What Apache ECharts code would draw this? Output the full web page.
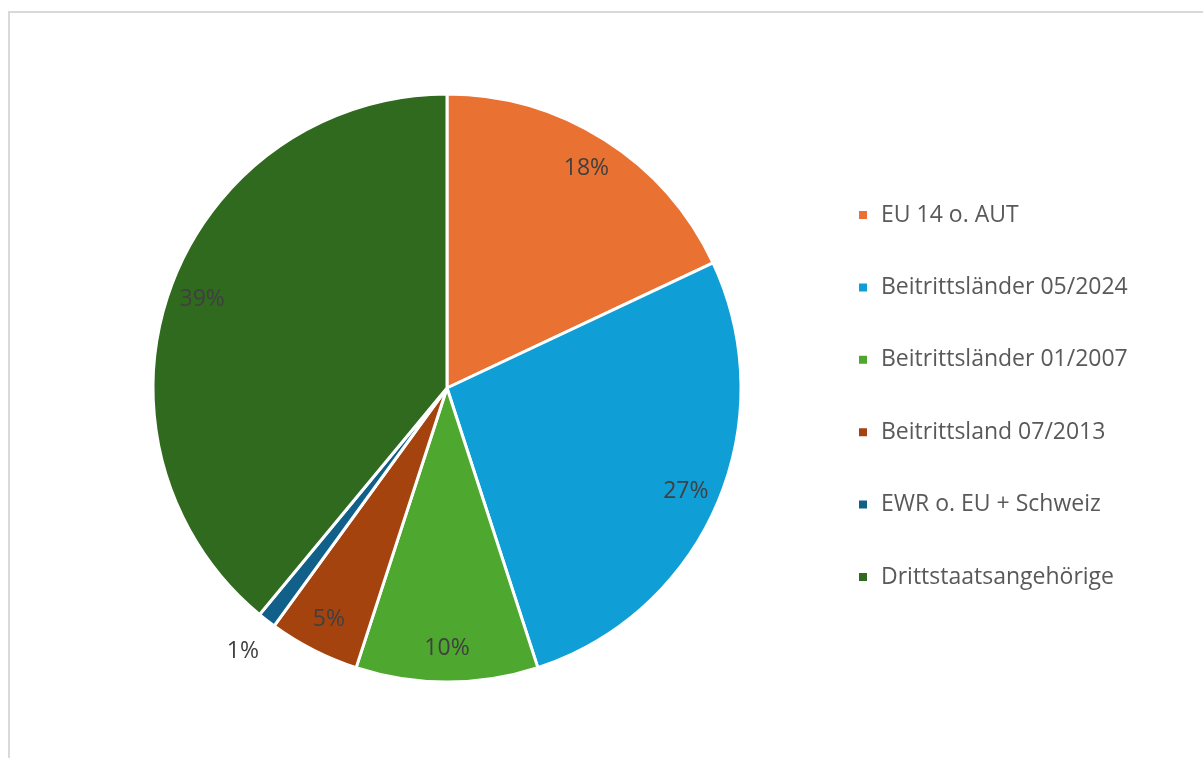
<!DOCTYPE html>
<html>
<head>
<meta charset="utf-8">
<script src="https://cdn.jsdelivr.net/npm/echarts@6/dist/echarts.min.js"></script>
<style>
html,body{margin:0;padding:0;background:#fff;}
#chart{width:1203px;height:758px;}
</style>
</head>
<body>
<div id="chart"></div>
<script>
const categories = ['EU 14 o. AUT','Beitrittsländer 05/2024','Beitrittsländer 01/2007','Beitrittsland 07/2013','EWR o. EU + Schweiz','Drittstaatsangehörige'];
const values = [18, 27, 10, 5, 1, 39];
const colors = ['#E97132','#0F9ED5','#4EA72E','#A5430F','#11608A','#2F6A1E'];
const outsideLabelIdx = [4];

const fontFam = '"Open Sans", Lato, sans-serif';
const labelFmt = p => Math.round(p.percent) + '%';

const chart = echarts.init(document.getElementById('chart'), null, {renderer:'canvas'});
const center = [447, 388];
const R = 294;

chart.setOption({
  animation:false,
  color: colors,
  graphic:[{type:'rect', silent:true, shape:{x:9,y:12,width:1400,height:900}, style:{fill:'none',stroke:'#d9d9d9',lineWidth:2}}],
  legend:{
    orient:'vertical', left:852, top:197,
    itemWidth:10, itemHeight:10, itemGap:46.4, icon:'rect',
    data: categories,
    textStyle:{fontFamily:fontFam, fontSize:23, color:'#595959', lineHeight:26, padding:[0,0,0,8]}
  },
  series:[
    {
      type:'pie', center:center, radius:R, startAngle:90, clockwise:true,
      data: categories.map((c,i)=>({name:c, value:values[i]})),
      itemStyle:{borderColor:'#fff', borderWidth:3},
      label:{show:false}, labelLine:{show:false},
      emphasis:{disabled:true}
    },
    {
      type:'pie', center:center, radius:[R*0.75, R], startAngle:90, clockwise:true, silent:true, legendHoverLink:false,
      data: categories.map((c,i)=>({name:c, value:values[i], label:{show: outsideLabelIdx.indexOf(i)<0}})),
      itemStyle:{color:'rgba(0,0,0,0)', borderWidth:0},
      label:{show:true, position:'inside', formatter:labelFmt, fontFamily:fontFam, fontSize:23, color:'#404040'},
      labelLine:{show:false}, emphasis:{disabled:true}
    },
    {
      type:'pie', center:center, radius:[R, R*1.245], startAngle:90, clockwise:true, silent:true, legendHoverLink:false,
      data: categories.map((c,i)=>({name:c, value:values[i], label:{show: outsideLabelIdx.indexOf(i)>=0}})),
      itemStyle:{color:'rgba(0,0,0,0)', borderWidth:0},
      label:{show:true, position:'inside', formatter:labelFmt, fontFamily:fontFam, fontSize:23, color:'#404040'},
      labelLine:{show:false}, emphasis:{disabled:true}
    }
  ]
});
</script>
</body>
</html>
